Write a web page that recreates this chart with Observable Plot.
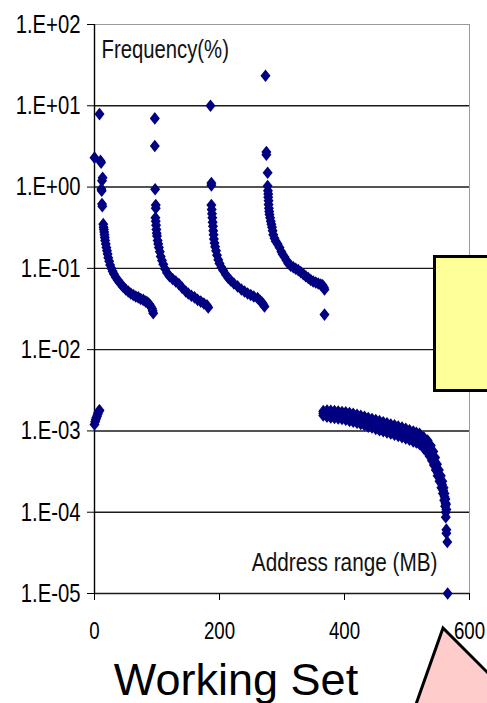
<!DOCTYPE html>
<html><head><meta charset="utf-8">
<script src="https://cdn.jsdelivr.net/npm/d3@7"></script>
<script src="https://cdn.jsdelivr.net/npm/@observablehq/plot@0.6"></script>
<style>
body{margin:0;background:#fff;}
#wrap{position:relative;width:487px;height:703px;overflow:hidden;background:#fff;}
#deco{position:absolute;left:0;top:0;}
#chart{position:absolute;left:0;top:0;}
#note{position:absolute;left:433px;top:255px;width:70px;height:137px;box-sizing:border-box;border:3px solid #000;background:#ffff99;}
</style></head><body>
<div id="wrap">
<svg id="deco" width="487" height="703"><polygon points="443,628 409,724 540,725" fill="#ffcccc" stroke="#000" stroke-width="3"/></svg>
<div id="chart"></div>
<div id="note"></div>
</div>
<script>
// [Address range (MB), Frequency (%)]
const segA = [[0,2.3],[8,7.9],[9.6,2.1],[10.5,2.0],[13,1.3],[12,1.2],[11,0.95],[11.5,0.9],[12,0.62],[12.5,0.58],
 [14,0.35],[14.5,0.32],[15,0.30],[15.5,0.28],[16,0.26],[16.5,0.24],[17,0.22],[18,0.20],[19,0.18],[20,0.165],[21,0.15],[22,0.135],[23.5,0.122],[25,0.11],[27,0.10],[29,0.092],[31,0.085],[34,0.078],[37,0.072],[40,0.067],[43,0.063],[46,0.059],[50,0.055],[54,0.052],[58,0.049],[62,0.047],[66,0.045],[70,0.044],[74,0.042],[78,0.041],[82,0.039],[85,0.038],[88,0.036],[90,0.034],[92,0.032],[93,0.030],[94,0.028]];
const segB = [[96.5,7.0],[96.5,3.2],[97,0.94],[98,0.60],[98,0.55],
 [97.5,0.42],[98,0.38],[98.5,0.34],[99,0.30],[99.5,0.27],[100,0.25],[101,0.22],[102,0.20],[103,0.18],[104.5,0.16],[106,0.14],[108,0.125],[110,0.112],[113,0.098],[116,0.088],[120,0.080],[125,0.074],[130,0.069],[135,0.064],[140,0.058],[146,0.052],[150,0.049],[155,0.046],[160,0.044],[165,0.041],[170,0.039],[175,0.037],[180,0.035],[182,0.033]];
const segC = [[185.6,10],[187,1.12],[187,1.05],
 [187,0.60],[187.5,0.53],[188,0.47],[188.5,0.42],[189,0.37],[189.5,0.33],[190,0.29],[190.5,0.26],[191,0.23],[192,0.205],[193,0.185],[194.5,0.165],[196,0.145],[198,0.128],[200,0.115],[203,0.103],[206,0.094],[210,0.084],[214,0.076],[218,0.071],[223,0.065],[229,0.060],[235,0.055],[240,0.052],[245,0.049],[250,0.047],[255,0.045],[261,0.043],[265,0.040],[268,0.038],[270,0.036],[272,0.034]];
const segD = [[273.6,23.4],[275,2.7],[275,2.5],[277,1.5],[277,1.03],
 [277.5,0.90],[278,0.82],[278,0.75],[278.5,0.68],[278.5,0.61],[279,0.55],[279.5,0.50],[280,0.46],[281,0.42],[282,0.38],[283,0.35],[284,0.32],[285,0.29],[286,0.26],[288,0.235],[290,0.215],[293,0.20],[296,0.18],[299,0.16],[301,0.149],[304,0.138],[307,0.126],[310,0.115],[314,0.108],[318,0.103],[322,0.099],[326,0.095],[330,0.090],[334,0.085],[338,0.080],[342,0.076],[346,0.072],[350,0.069],[354,0.067],[358,0.065],[362,0.063],[365,0.062],[367,0.058],[368,0.055],[368,0.027]];
const segE = [[0,1.2e-3],[1,1.3e-3],[2,1.38e-3],[3,1.45e-3],[4,1.52e-3],[5,1.6e-3],[6,1.68e-3],[7,1.75e-3],[8,1.8e-3]];
const bandUpper = [[366,1.75e-3],[372,1.78e-3],[378,1.77e-3],[384,1.75e-3],[390,1.73e-3],[396,1.71e-3],[402,1.69e-3],[408,1.66e-3],[414,1.62e-3],[420,1.58e-3],[426,1.54e-3],[432,1.49e-3],[438,1.44e-3],[444,1.40e-3],[450,1.36e-3],[456,1.32e-3],[462,1.28e-3],[468,1.24e-3],[474,1.20e-3],[480,1.17e-3],[486,1.13e-3],[492,1.10e-3],[498,1.06e-3],[504,1.02e-3],[510,9.8e-4],[515,9.5e-4],[520,9.2e-4],[527,8.3e-4],[533,7.6e-4],[538,6.6e-4],[542,5.6e-4],[545,4.7e-4],[548,3.9e-4],[551,3.3e-4],[554,2.8e-4],[556.5,2.4e-4],[558.5,2.0e-4],[560,1.7e-4],[561.5,1.45e-4],[562.5,1.25e-4],[563,1.08e-4]];
const bandMiddle = [[366,1.65e-3],[372,1.64e-3],[378,1.61e-3],[384,1.59e-3],[390,1.57e-3],[396,1.55e-3],[402,1.52e-3],[408,1.49e-3],[414,1.45e-3],[420,1.41e-3],[426,1.37e-3],[432,1.33e-3],[438,1.28e-3],[444,1.24e-3],[450,1.20e-3],[456,1.16e-3],[462,1.13e-3],[468,1.09e-3],[474,1.06e-3],[480,1.03e-3],[486,9.9e-4],[492,9.6e-4],[498,9.3e-4],[504,8.9e-4],[510,8.5e-4],[515,8.3e-4],[520,8.0e-4],[527,7.1e-4],[532,6.4e-4],[537,5.6e-4],[541,4.9e-4],[544,4.2e-4],[547,3.6e-4],[550,3.0e-4],[553,2.6e-4],[556,2.2e-4],[558,1.85e-4],[560,1.55e-4],[561.5,1.3e-4]];
const bandLower = [[366,1.55e-3],[372,1.50e-3],[378,1.46e-3],[384,1.44e-3],[390,1.42e-3],[396,1.40e-3],[402,1.37e-3],[408,1.33e-3],[414,1.30e-3],[420,1.26e-3],[426,1.22e-3],[432,1.18e-3],[438,1.13e-3],[444,1.10e-3],[450,1.06e-3],[456,1.02e-3],[462,9.9e-4],[468,9.6e-4],[474,9.3e-4],[480,9.0e-4],[486,8.7e-4],[492,8.4e-4],[498,8.1e-4],[504,7.8e-4],[510,7.4e-4],[515,7.2e-4],[520,6.9e-4],[527,6.1e-4],[532,5.5e-4],[536,4.9e-4],[540,4.3e-4],[543,3.8e-4],[546,3.3e-4],[549,2.8e-4],[552,2.4e-4],[555,2.0e-4],[557.5,1.7e-4],[559.5,1.4e-4],[561,1.18e-4],[562,1.0e-4]];
const tail = [[562,8.7e-5],[563,6.1e-5],[563,5.5e-5],[564.5,4.3e-5],[565,1.0e-5]];

const xTicks = [0, 200, 400, 600];
const yTicks = [1e-5, 1e-4, 1e-3, 1e-2, 1e-1, 1e0, 1e1, 1e2];
const yLabel = "Frequency(%)";
const xLabel = "Address range (MB)";
const caption = "Working Set";

const points = [...segA, ...segB, ...segC, ...segD, ...segE, ...bandUpper, ...bandMiddle, ...bandLower, ...tail]
  .map(([x, y]) => ({x, y}));

const fmt = d => { const e = Math.round(Math.log10(d)); return "1.E" + (e < 0 ? "-" : "+") + String(Math.abs(e)).padStart(2, "0"); };
const FONT = '"Liberation Sans", Arial, sans-serif';
const diamond = {draw(ctx) { ctx.moveTo(0, -6.3); ctx.lineTo(5, 0); ctx.lineTo(0, 6.3); ctx.lineTo(-5, 0); ctx.closePath(); }};

const chart = Plot.plot({
  width: 487, height: 703,
  marginLeft: 94, marginRight: 18, marginTop: 24, marginBottom: 110,
  style: {background: "transparent", fontFamily: FONT, color: "#000"},
  x: {domain: [0, 600]},
  y: {type: "log", domain: [1e-5, 100]},
  marks: [
    Plot.frame({stroke: "#9a9a9a"}),
    Plot.ruleY(yTicks.slice(0, -1), {stroke: "#1a1a1a", strokeWidth: 1.4}),
    Plot.ruleX([0], {stroke: "#000", strokeWidth: 1.4}),
    Plot.axisY({ticks: yTicks, tickFormat: fmt, tickSize: 7, tickPadding: 7, fontSize: 26, label: null}),
    Plot.axisX({ticks: xTicks, tickFormat: d => String(d), tickSize: 7, tickPadding: 21, fontSize: 24, label: null}),
    Plot.dot(points, {x: "x", y: "y", symbol: diamond, r: 4, fill: "#000080", stroke: "none"}),
    Plot.text([yLabel], {frameAnchor: "top-left", dx: 7, dy: 15, textAnchor: "start", lineAnchor: "top", fontSize: 26, fill: "#111"}),
    Plot.text([xLabel], {frameAnchor: "bottom-right", dx: -32, dy: -23, textAnchor: "end", lineAnchor: "bottom", fontSize: 25, fill: "#111"}),
    Plot.text([caption], {frameAnchor: "bottom", dx: -46, dy: 70, textAnchor: "middle", lineAnchor: "top", fontSize: 45, fill: "#000"})
  ]
});
document.getElementById("chart").appendChild(chart);
// emulate the narrow face of the original for all chart texts except the caption
chart.querySelectorAll("text").forEach(t => {
  if (t.textContent === caption) return;
  const k = t.textContent === xLabel ? 0.83 : 0.78;
  const L = t.getComputedTextLength();
  t.setAttribute("textLength", (L * k).toFixed(1));
  t.setAttribute("lengthAdjust", "spacingAndGlyphs");
});
</script>
</body></html>
